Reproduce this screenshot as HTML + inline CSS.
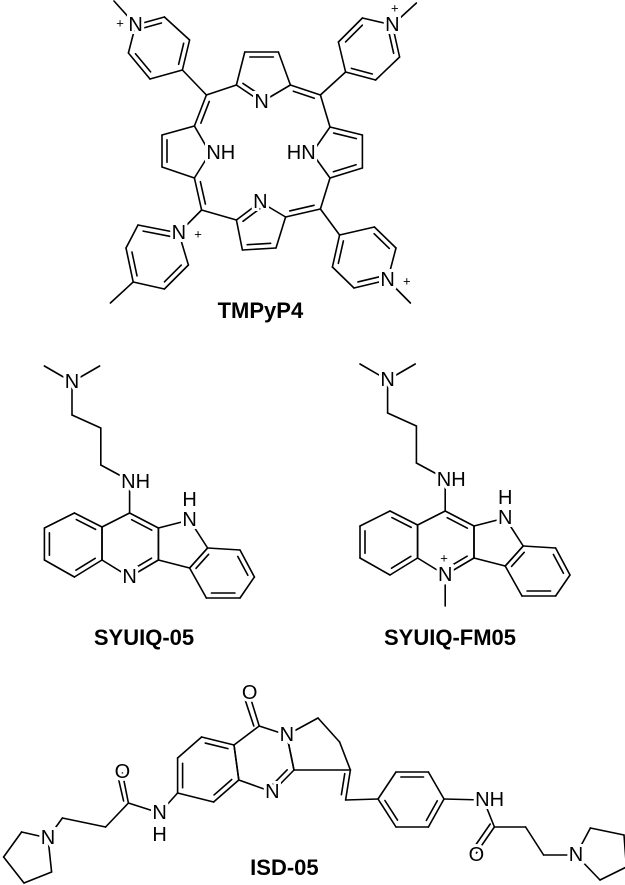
<!DOCTYPE html>
<html><head><meta charset="utf-8"><style>
html,body{margin:0;padding:0;background:#fff;}
svg{display:block}
text{font-family:"Liberation Sans",sans-serif;fill:#000;}
.a{font-size:20px;text-anchor:middle;dominant-baseline:central;stroke:#fff;stroke-width:6px;paint-order:stroke;}
.p{font-size:13px;text-anchor:middle;dominant-baseline:central;}
.l{font-size:22px;font-weight:bold;text-anchor:middle;}
</style></head><body>
<svg id="s" width="625" height="885" viewBox="0 0 625 885" xmlns="http://www.w3.org/2000/svg">
<g id="b" stroke="#000" stroke-width="1.6" fill="none" stroke-linecap="round"></g>
<g id="t"></g>
</svg>
<script>
var K=1.2;
var G=document.getElementById('b'),T=document.getElementById('t'),NS='http://www.w3.org/2000/svg';
function R(x1,y1,x2,y2){var e=document.createElementNS(NS,'line');e.setAttribute('x1',x1);e.setAttribute('y1',y1);e.setAttribute('x2',x2);e.setAttribute('y2',y2);G.appendChild(e);}
function L(x1,y1,x2,y2){R(x1*K,y1,x2*K,y2);}
function S(p){return [p[0]*K,p[1]];}
function B(a,b,c){a=S(a);b=S(b);R(a[0],a[1],b[0],b[1]);if(c){c=S(c);var dx=b[0]-a[0],dy=b[1]-a[1],len=Math.hypot(dx,dy),nx=-dy/len,ny=dx/len;var mx=(a[0]+b[0])/2-c[0],my=(a[1]+b[1])/2-c[1];if(nx*mx+ny*my>0){nx=-nx;ny=-ny;}var o=5,s=0.15;R(a[0]+dx*s+nx*o,a[1]+dy*s+ny*o,b[0]-dx*s+nx*o,b[1]-dy*s+ny*o);}}
function X(x,y,s,c){var e=document.createElementNS(NS,'text');e.setAttribute('x',x*K);e.setAttribute('y',y);e.setAttribute('class',c||'a');e.textContent=s;T.appendChild(e);}
function Lab(x,y,s){var e=document.createElementNS(NS,'text');e.setAttribute('x',x*K);e.setAttribute('y',y);e.setAttribute('class','l');e.textContent=s;T.appendChild(e);}
function ring(p,d,c){for(var i=0;i<p.length;i++){B(p[i],p[(i+1)%p.length],d[i]?c:null);}}
function cen(p){var x=0,y=0;p.forEach(function(q){x+=q[0];y+=q[1]});return [x/p.length,y/p.length];}
// ===== Porphyrin =====
var tp=[[197,85],[204,52],[232,52],[242,85],[218,102]];ring(tp,[0,1,0,0,1],cen(tp));
var lp=[[162,126],[135,135],[135,167],[162,178],[175,153]];ring(lp,[0,1,0,0,0],cen(lp));
var rp=[[275,127],[302,135],[302,168],[275,178],[260,153]];ring(rp,[1,0,1,0,0],cen(rp));
var bp=[[197,220],[202,250],[230,248],[238,217],[217,202]];ring(bp,[0,1,0,0,1],cen(bp));
var C=[218,153];
var mTL=[172,95],mTR=[267,95],mBL=[168,210],mBR=[267,209];
B(mTL,tp[0]);B(mTL,lp[0],C);B(tp[3],mTR,C);B(mTR,rp[0]);
B(lp[3],mBL,C);B(mBL,bp[0]);B(bp[3],mBR,C);B(mBR,rp[3]);
var p1=[[152,70],[158,40],[137,17],[113,25],[107,53],[125,79]];ring(p1,[1,0,1,0,1,0],cen(p1));B(mTL,p1[0]);B(p1[3],[95,1]);
var p2=[[288,72],[282,42],[302,18],[327,25],[333,57],[313,80]];ring(p2,[0,1,0,1,0,1],cen(p2));B(mTR,p2[0]);B(p2[3],[347,3]);
var p3=[[149,233],[115,225],[105,248],[111,282],[137,289],[157,265]];ring(p3,[1,0,1,0,1,0],cen(p3));B(mBL,p3[0]);B(p3[3],[92,303]);
var p4=[[283,235],[312,227],[330,248],[323,280],[295,288],[277,267]];ring(p4,[0,1,0,1,0,1],cen(p4));B(mBR,p4[0]);B(p4[3],[342,303]);
X(218,102,'N');X(217,202,'N');X(184,153,'NH');X(251,153,'HN');
X(113,25,'N');X(100,23,'+','p');X(327,25,'N');X(329,8,'+','p');
X(149,233,'N');X(165,234,'+','p');X(323,280,'N');X(339,281,'+','p');
Lab(217,318,'TMPyP4');
// ===== SYUIQ =====
function syu(dx,dy,plus){
 function P(x,y){return [x+dx,y+dy];}
 var N=P(60,382);B(N,P(37,366));B(N,P(83,366));B(N,P(60,415));B(P(60,415),P(84,428));B(P(84,428),P(84,465));B(P(84,465),P(104,478));
 B(P(108,490),P(108,513));
 var py=[P(108,513),P(85,527),P(85,560),P(108,577),P(132,560),P(132,528)];ring(py,[0,0,0,1,0,1],cen(py));
 var lb=[P(85,527),P(62,513),P(37,528),P(37,560),P(62,577),P(85,560)];ring(lb,[1,0,1,0,1,0],cen(lb));
 var fv=[P(132,528),P(158,520),P(173,548),P(158,568),P(132,560)];ring(fv,[0,0,0,0,0],cen(fv));
 var rb=[P(173,548),P(200,550),P(212,577),P(200,598),P(172,598),P(158,568)];ring(rb,[0,1,0,1,0,1],cen(rb));
 X(N[0],N[1],'N');X(dx+113,dy+482,'NH');var q=P(158,520);X(q[0],q[1],'N');X(q[0],q[1]-20,'H');
 var n=P(108,577);X(n[0],n[1],'N');
 if(plus){B(P(108,587),P(108,608));X(n[0]-1,n[1]-17,'+','p');}
}
syu(0,0,false);syu(263,-2,true);
Lab(120,645,'SYUIQ-05');Lab(375,645,'SYUIQ-FM05');
// ===== ISD-05 =====
var bz=[[195,745],[168,737],[148,758],[148,793],[178,802],[199,780]];ring(bz,[1,0,1,0,1,0],cen(bz));
var pm=[[195,745],[216,726],[239,735],[245,770],[227,792],[199,780]];ring(pm,[0,0,0,1,0,0],cen(pm));
B([216,726],[208,695]);L(211.5,726,203.5,697);
var fr=[[239,735],[265,718],[283,742],[292,770],[245,770]];ring(fr,[0,0,0,0,0],cen(fr));
B([292,770],[288,800],[270,780]);B([288,800],[315,799]);
var ph=[[315,799],[330,772],[357,772],[370,799],[357,827],[330,827]];ring(ph,[0,1,0,1,0,1],cen(ph));
B([148,793],[133,813]);B([133,813],[107,803]);B([107,803],[102,773]);L(103,801,98,775);
B([107,803],[88,827]);B([88,827],[52,818]);B([52,818],[40,838]);
var pl=[[40,838],[18,832],[3,857],[20,883],[43,872]];ring(pl,[0,0,0,0,0],cen(pl));
B([370,799],[403,800]);B([403,800],[412,827]);B([412,827],[397,853]);L(408.5,824,393.5,850);
B([412,827],[438,827]);B([438,827],[453,855]);B([453,855],[480,855]);
var pr=[[480,855],[492,828],[520,835],[522,867],[500,880]];ring(pr,[0,0,0,0,0],cen(pr));
X(208,693,'O');X(239,735,'N');X(227,792,'N');X(133,813,'N');X(133,835,'H');X(102,772,'O');X(40,838,'N');
X(408,800,'NH');X(397,855,'O');X(480,855,'N');
Lab(237,875,'ISD-05');
</script>
</body></html>
